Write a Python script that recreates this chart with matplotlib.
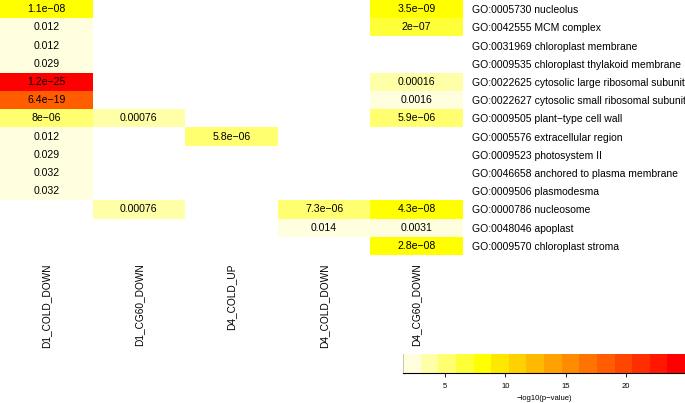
import numpy as np
import matplotlib
matplotlib.use("Agg")
import matplotlib.pyplot as plt
from matplotlib.colors import ListedColormap, BoundaryNorm, to_rgb

# --- dados ---
columns = ["D1_COLD_DOWN", "D1_CG60_DOWN", "D4_COLD_UP", "D4_COLD_DOWN", "D4_CG60_DOWN"]
terms = [
    "GO:0005730 nucleolus",
    "GO:0042555 MCM complex",
    "GO:0031969 chloroplast membrane",
    "GO:0009535 chloroplast thylakoid membrane",
    "GO:0022625 cytosolic large ribosomal subunit",
    "GO:0022627 cytosolic small ribosomal subunit",
    "GO:0009505 plant\u2212type cell wall",
    "GO:0005576 extracellular region",
    "GO:0009523 photosystem II",
    "GO:0046658 anchored to plasma membrane",
    "GO:0009506 plasmodesma",
    "GO:0000786 nucleosome",
    "GO:0048046 apoplast",
    "GO:0009570 chloroplast stroma",
]
nan = np.nan
d1_cold_down = [1.1e-08, 0.012, 0.012, 0.029, 1.2e-25, 6.4e-19, 8e-06, 0.012, 0.029, 0.032, 0.032, nan, nan, nan]
d1_cg60_down = [nan, nan, nan, nan, nan, nan, 0.00076, nan, nan, nan, nan, 0.00076, nan, nan]
d4_cold_up = [nan, nan, nan, nan, nan, nan, nan, 5.8e-06, nan, nan, nan, nan, nan, nan]
d4_cold_down = [nan, nan, nan, nan, nan, nan, nan, nan, nan, nan, nan, 7.3e-06, 0.014, nan]
d4_cg60_down = [3.5e-09, 2e-07, nan, nan, 0.00016, 0.0016, 5.9e-06, nan, nan, nan, nan, 4.3e-08, 0.0031, 2.8e-08]

pvals = np.array([d1_cold_down, d1_cg60_down, d4_cold_up, d4_cold_down, d4_cg60_down]).T
score = -np.log10(pvals)

# paleta: lightyellow -> yellow -> red, 16 niveis
def ramp(c1, c2, n):
    a, b = np.array(to_rgb(c1)), np.array(to_rgb(c2))
    return [a + (b - a) * t for t in np.linspace(0, 1, n)]

colors = ramp("#FFFFE0", "#FFFF00", 5)[:-1] + ramp("#FFFF00", "#FF0000", 12)
cmap = ListedColormap(colors)
vmin, vmax = np.nanmin(score), np.nanmax(score)
bounds = np.linspace(vmin, vmax, len(colors) + 1)
norm = BoundaryNorm(bounds, cmap.N)

plt.rcParams["font.family"] = ["Liberation Sans", "DejaVu Sans"]

W, H = 685, 403
fig = plt.figure(figsize=(W / 100, H / 100), dpi=100)
ax = fig.add_axes([0, 1 - 255 / H, 463 / W, 255 / H])

masked = np.ma.masked_invalid(score)
ax.pcolormesh(np.arange(len(columns) + 1), np.arange(len(terms) + 1), masked,
              cmap=cmap, norm=norm)
ax.set_xlim(0, len(columns))
ax.set_ylim(len(terms), 0)

for i in range(len(terms)):
    for j in range(len(columns)):
        p = pvals[i, j]
        if not np.isnan(p):
            ax.text(j + 0.5, i + 0.5, f"{p:.2g}".replace("-", "\u2212"),
                    ha="center", va="center", fontsize=7.6)

ax.set_xticks(np.arange(len(columns)) + 0.5)
ax.set_xticklabels(columns, rotation=90, fontsize=7.3, va="top")
ax.set_yticks(np.arange(len(terms)) + 0.5)
ax.set_yticklabels(terms, fontsize=7.5)
ax.yaxis.tick_right()
ax.tick_params(axis="both", length=0)
ax.tick_params(axis="x", pad=6)
ax.tick_params(axis="y", pad=6.5)
for s in ax.spines.values():
    s.set_visible(False)

# barra de cores
cax = fig.add_axes([403 / W, 1 - 373 / H, (W - 403) / W, 19 / H])
cb = fig.colorbar(plt.cm.ScalarMappable(norm=norm, cmap=cmap), cax=cax,
                  orientation="horizontal", ticks=[5, 10, 15, 20])
cb.outline.set_visible(False)
cax.minorticks_off()
cax.spines["bottom"].set_visible(True)
cax.spines["bottom"].set_linewidth(0.8)
cax.spines["left"].set_visible(True)
cax.spines["left"].set_linewidth(0.4)
cax.spines["left"].set_color("#999999")
cax.tick_params(labelsize=5.5, length=3, width=0.6, pad=4)
cax.set_xlim(vmin, vmax)
cb.set_label("\u2212log10(p\u2212value)", fontsize=5.5, labelpad=4)

fig.savefig("out.png", dpi=100)
